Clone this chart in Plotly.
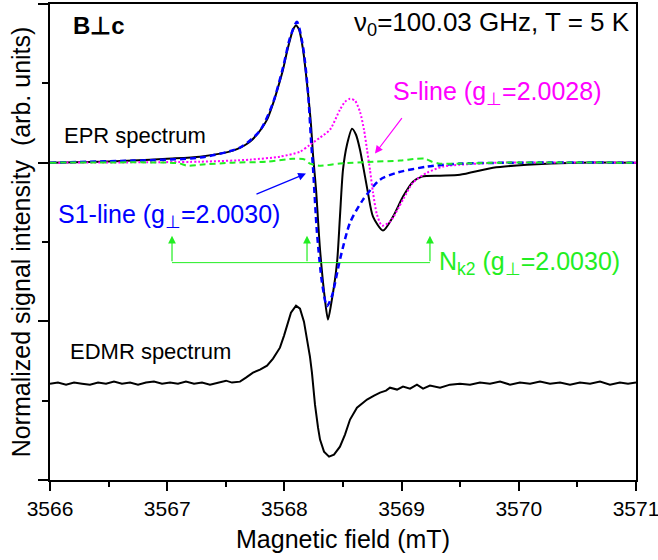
import plotly.graph_objects as go

# ---------------- data ----------------
# EPR spectrum (black)
epr_B = [3566.000, 3566.427, 3566.708, 3566.998, 3567.280, 3567.561, 3567.706, 3567.792,
         3567.852, 3567.903, 3567.945, 3567.988, 3568.022, 3568.048, 3568.073, 3568.099,
         3568.125, 3568.159, 3568.201, 3568.227, 3568.244, 3568.270, 3568.304, 3568.346,
         3568.372, 3568.398, 3568.449, 3568.474, 3568.500, 3568.534, 3568.577, 3568.611,
         3568.645, 3568.688, 3568.713, 3568.756, 3568.841, 3568.927, 3569.012, 3569.097,
         3569.174, 3569.328, 3569.498, 3569.780, 3570.070, 3570.497, 3571.000]
epr_I = [0.000, 0.006, 0.013, 0.025, 0.038, 0.076, 0.132, 0.202,
         0.271, 0.372, 0.473, 0.586, 0.699, 0.775, 0.838, 0.865,
         0.838, 0.712, 0.441, 0.239, 0.050, -0.170, -0.548, -0.863,
         -0.989, -0.895, -0.630, -0.340, -0.044, 0.113, 0.214, 0.176,
         0.082, -0.088, -0.189, -0.340, -0.428, -0.340, -0.214, -0.120,
         -0.088, -0.082, -0.076, -0.032, -0.013, 0.000, 0.000]

# S1-line fit (blue dashed)
s1_B = [3566.000, 3566.708, 3567.280, 3567.621, 3567.792, 3567.903, 3567.988, 3568.048,
        3568.107, 3568.159, 3568.201, 3568.227, 3568.244, 3568.278, 3568.321, 3568.363,
        3568.406, 3568.474, 3568.560, 3568.671, 3568.816, 3568.961, 3569.217, 3569.498,
        3570.010, 3571.000]
s1_I = [0.000, 0.013, 0.032, 0.095, 0.202, 0.378, 0.599, 0.788,
        0.888, 0.731, 0.447, 0.145, -0.032, -0.441, -0.756, -0.905,
        -0.840, -0.611, -0.378, -0.233, -0.107, -0.063, -0.025, -0.006,
        0.000, 0.000]

# S-line fit (magenta dotted)
s_B = [3566.000, 3567.280, 3567.706, 3567.962, 3568.133, 3568.218, 3568.304, 3568.389,
       3568.474, 3568.517, 3568.560, 3568.602, 3568.645, 3568.679, 3568.705, 3568.730,
       3568.756, 3568.790, 3568.833, 3568.901, 3569.012, 3569.097, 3569.217, 3569.353,
       3569.498, 3569.840, 3571.000]
s_I = [0.000, 0.006, 0.019, 0.038, 0.069, 0.113, 0.158, 0.208,
       0.334, 0.384, 0.403, 0.391, 0.321, 0.208, 0.082, -0.044,
       -0.189, -0.328, -0.397, -0.372, -0.233, -0.126, -0.063, -0.025,
       -0.013, 0.000, 0.000]

# Nk2 fit (green dashed)
nk_B = [3566.000, 3567.024, 3567.109, 3567.169, 3567.280, 3567.561, 3567.852, 3568.073,
        3568.176, 3568.218, 3568.304, 3568.474, 3568.756, 3568.986, 3569.131, 3569.200,
        3569.259, 3569.328, 3569.498, 3569.840, 3571.000]
nk_I = [0.000, 0.000, -0.006, -0.019, -0.013, 0.000, 0.006, 0.025,
        0.019, -0.006, -0.019, -0.006, 0.006, 0.013, 0.025, 0.025,
        0.006, -0.006, -0.006, 0.000, 0.000]

# EDMR spectrum (black, offset)
edmr_B = [3566.000, 3566.068, 3566.137, 3566.205, 3566.273, 3566.341, 3566.410, 3566.478,
          3566.546, 3566.614, 3566.683, 3566.751, 3566.819, 3566.887, 3566.956, 3567.024,
          3567.092, 3567.160, 3567.229, 3567.297, 3567.365, 3567.433, 3567.502, 3567.553,
          3567.621, 3567.672, 3567.732, 3567.792, 3567.852, 3567.903, 3567.937, 3567.962,
          3567.997, 3568.022, 3568.056, 3568.099, 3568.133, 3568.167, 3568.193, 3568.218,
          3568.235, 3568.261, 3568.287, 3568.304, 3568.338, 3568.381, 3568.423, 3568.474,
          3568.517, 3568.560, 3568.619, 3568.662, 3568.705, 3568.765, 3568.816, 3568.867,
          3568.901, 3568.961, 3569.012, 3569.072, 3569.131, 3569.183, 3569.242, 3569.328,
          3569.413, 3569.498, 3569.584, 3569.669, 3569.754, 3569.840, 3569.925, 3570.010,
          3570.096, 3570.181, 3570.266, 3570.352, 3570.437, 3570.522, 3570.608, 3570.693,
          3570.778, 3570.863, 3570.932, 3571.000]
edmr_I = [-1.393, -1.386, -1.399, -1.386, -1.393, -1.399, -1.386, -1.393,
          -1.380, -1.393, -1.386, -1.399, -1.386, -1.380, -1.393, -1.386,
          -1.393, -1.380, -1.393, -1.386, -1.399, -1.386, -1.374, -1.386,
          -1.380, -1.355, -1.323, -1.304, -1.279, -1.235, -1.197, -1.166,
          -1.090, -1.027, -0.945, -0.901, -0.920, -1.002, -1.103, -1.222,
          -1.323, -1.525, -1.670, -1.745, -1.821, -1.853, -1.840, -1.790,
          -1.714, -1.619, -1.544, -1.519, -1.493, -1.468, -1.449, -1.437,
          -1.418, -1.430, -1.411, -1.424, -1.399, -1.424, -1.405, -1.418,
          -1.399, -1.393, -1.399, -1.386, -1.393, -1.380, -1.399, -1.386,
          -1.393, -1.380, -1.393, -1.386, -1.399, -1.386, -1.393, -1.380,
          -1.399, -1.386, -1.393, -1.386]

# marker arrows for Nk2 hyperfine lines
nk_arrow_B = [3567.041, 3568.193, 3569.242]
nk_arrow_tip = -0.460
nk_arrow_base = -0.630

x_ticks = [3566, 3567, 3568, 3569, 3570, 3571]

GREEN = "#22EE22"
BLUE = "#0000FF"
MAG = "#FF00FF"
FONT = "Liberation Sans, Arial, sans-serif"

fig = go.Figure()
fig.add_trace(go.Scatter(x=epr_B, y=epr_I, mode="lines",
                         line=dict(color="black", width=2, shape="spline", smoothing=0.7)))
fig.add_trace(go.Scatter(x=edmr_B, y=edmr_I, mode="lines",
                         line=dict(color="black", width=2)))
fig.add_trace(go.Scatter(x=s_B, y=s_I, mode="lines",
                         line=dict(color=MAG, width=2, dash="2px,2px", shape="spline", smoothing=0.7)))
fig.add_trace(go.Scatter(x=s1_B, y=s1_I, mode="lines",
                         line=dict(color=BLUE, width=2.5, dash="6px,4px", shape="spline", smoothing=0.7)))
fig.add_trace(go.Scatter(x=nk_B, y=nk_I, mode="lines",
                         line=dict(color=GREEN, width=2, dash="6px,4px", shape="spline", smoothing=0.7)))

# horizontal green bracket line
fig.add_shape(type="line", xref="x", yref="y",
              x0=nk_arrow_B[0], x1=nk_arrow_B[-1], y0=nk_arrow_base, y1=nk_arrow_base,
              line=dict(color=GREEN, width=1))
for b in nk_arrow_B:
    fig.add_annotation(x=b, y=nk_arrow_tip, ax=b, ay=nk_arrow_base, xref="x", yref="y",
                       axref="x", ayref="y", text="", showarrow=True,
                       arrowhead=2, arrowsize=1.3, arrowwidth=1.2, arrowcolor=GREEN)

# pointer arrows
fig.add_annotation(x=3568.184, y=-0.069, ax=3567.749, ay=-0.202, xref="x", yref="y",
                   axref="x", ayref="y", text="", showarrow=True,
                   arrowhead=2, arrowsize=1.3, arrowwidth=1.2, arrowcolor=BLUE)
fig.add_annotation(x=3568.773, y=0.057, ax=3569.012, ay=0.290, xref="x", yref="y",
                   axref="x", ayref="y", text="", showarrow=True,
                   arrowhead=2, arrowsize=1.3, arrowwidth=1.2, arrowcolor=MAG)

def label(txt, x, y, color, size, xanchor="left", bold=False):
    fig.add_annotation(x=x, y=y, xref="x", yref="y", text=("<b>%s</b>" % txt) if bold else txt,
                       showarrow=False, xanchor=xanchor, yanchor="middle",
                       font=dict(family=FONT, size=size, color=color))

label("B\u22a5c", 3566.18, 0.863, "black", 24, bold=True)
label("\u03bd<sub>0</sub>=100.03 GHz, T = 5 K", 3570.97, 0.876, "black", 26, xanchor="right")
label("S-line (g<sub>\u22a5</sub>=2.0028)", 3568.91, 0.44, MAG, 25)
label("EPR spectrum", 3566.10, 0.17, "black", 22)
label("S1-line (g<sub>\u22a5</sub>=2.0030)", 3566.05, -0.335, BLUE, 25)
label("N<sub>k2</sub> (g<sub>\u22a5</sub>=2.0030)", 3569.30, -0.635, GREEN, 25)
label("EDMR spectrum", 3566.15, -1.19, "black", 22)

fig.update_layout(
    width=658, height=560,
    margin=dict(l=50, r=22, t=4, b=80),
    paper_bgcolor="white", plot_bgcolor="white",
    showlegend=False,
    font=dict(family=FONT, color="black"),
)
fig.update_xaxes(
    range=[3566, 3571], autorange=False, automargin=False,
    tickvals=x_ticks, ticktext=[str(t) for t in x_ticks],
    ticklabeloverflow="allow",
    ticks="outside", ticklen=9, tickwidth=2, tickcolor="black",
    minor=dict(ticks="outside", ticklen=5, tickwidth=2, tickcolor="black", dtick=0.5, showgrid=False),
    showline=True, linewidth=2, linecolor="black", mirror=True,
    showgrid=False, zeroline=False,
    tickfont=dict(family=FONT, size=21, color="black"),
    title=dict(text="Magnetic field (mT)", font=dict(family=FONT, size=25, color="black"), standoff=11),
)
fig.update_yaxes(
    range=[-2, 1], autorange=False, automargin=False,
    tick0=0, dtick=1, showticklabels=False,
    ticks="outside", ticklen=10, tickwidth=2, tickcolor="black",
    minor=dict(ticks="outside", ticklen=6, tickwidth=2, tickcolor="black", dtick=0.5, showgrid=False),
    showline=True, linewidth=2, linecolor="black", mirror=True,
    showgrid=False, zeroline=False,
    title=dict(text="Normalized signal intensity  (arb. units)",
               font=dict(family=FONT, size=25, color="black"), standoff=0),
)

fig.write_html("out.html", config={"displayModeBar": False},
               post_script="document.body.style.margin='0';document.body.style.overflow='hidden';")
